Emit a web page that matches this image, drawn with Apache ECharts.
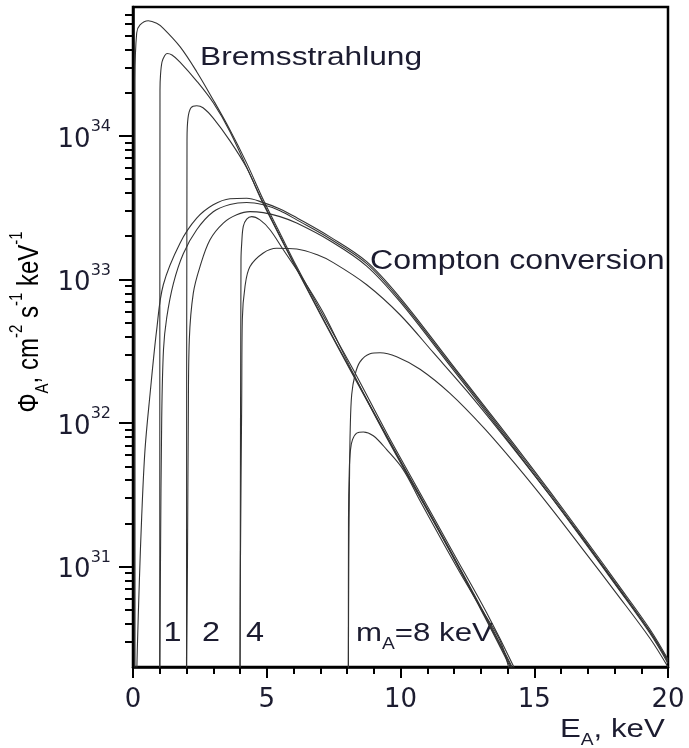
<!DOCTYPE html>
<html>
<head>
<meta charset="utf-8">
<script src="https://cdn.jsdelivr.net/npm/echarts@6/dist/echarts.min.js"></script>
<style>
  html, body { margin: 0; padding: 0; background: #fff; }
  #chart { width: 689px; height: 748px; }
</style>
</head>
<body>
<div id="chart"></div>
<script>
// Axion flux spectra: Bremsstrahlung and Compton conversion, for several axion masses.
const xTickLabels = [0, 5, 10, 15, 20];
const yDecades = [1e31, 1e32, 1e33, 1e34];

// Bremsstrahlung curves [E_A (keV), flux]
const bremsM0 = [[0.075, 1.5e30], [0.075, 2.45e34], [0.138, 5.21e34], [0.262, 5.92e34], [0.572, 6.34e34],
  [0.886, 6.08e34], [1.133, 5.61e34], [1.757, 4.18e34], [2.381, 2.80e34], [3.0, 1.78e34], [3.626, 1.10e34],
  [4.25, 6.46e33], [4.871, 3.59e33], [5.495, 2.10e33], [6.12, 1.23e33], [6.99, 6.15e32], [8.236, 2.35e32],
  [9.484, 8.53e31], [10.73, 3.26e31], [11.97, 1.25e31], [13.22, 4.77e30], [14.22, 2.03e30], [14.3, 1.8e30]];
const bremsM1 = [[1.0, 1.5e30], [1.009, 2.09e34], [1.028, 2.65e34], [1.084, 3.27e34], [1.178, 3.60e34],
  [1.271, 3.75e34], [1.458, 3.66e34], [1.757, 3.27e34], [2.381, 2.41e34], [3.0, 1.70e34], [3.626, 1.07e34],
  [4.871, 3.42e33], [6.99, 5.86e32], [9.484, 8.16e31], [11.97, 1.19e31], [14.2, 1.95e30], [14.3, 1.6e30]];
const bremsM2 = [[2.0, 1.5e30], [2.019, 9.38e33], [2.056, 1.33e34], [2.168, 1.57e34], [2.381, 1.62e34],
  [2.617, 1.57e34], [3.0, 1.33e34], [3.626, 9.23e33], [4.25, 5.99e33], [4.871, 3.36e33], [6.99, 5.77e32],
  [9.484, 8.03e31], [11.97, 1.17e31], [14.17, 1.95e30], [14.3, 1.6e30]];
const bremsM4 = [[4.0, 1.5e30], [4.037, 1.37e33], [4.064, 1.79e33], [4.123, 2.34e33], [4.25, 2.63e33],
  [4.437, 2.74e33], [4.748, 2.60e33], [5.121, 2.22e33], [5.619, 1.61e33], [6.366, 9.96e32], [7.114, 5.86e32],
  [8.236, 2.21e32], [9.484, 7.91e31], [11.97, 1.16e31], [14.13, 1.95e30], [14.25, 1.6e30]];
const bremsM8 = [[8.05, 1.5e30], [8.056, 2.13e31], [8.086, 4.74e31], [8.131, 6.53e31], [8.206, 7.66e31],
  [8.363, 8.51e31], [8.61, 8.67e31], [8.983, 8.16e31], [9.484, 6.53e31], [10.10, 4.74e31], [10.73, 2.88e31],
  [11.48, 1.60e31], [12.22, 9.10e30], [12.97, 5.28e30], [13.72, 3.06e30], [14.04, 2.0e30], [14.1, 1.7e30]];

// Compton conversion curves [E_A (keV), flux]
const comptonM0 = [[0.131, 1.5e30], [0.161, 2.65e30], [0.236, 7.74e30], [0.325, 2.23e31], [0.449, 6.53e31],
  [0.636, 1.58e32], [0.886, 4.47e32], [1.133, 9.19e32], [1.757, 1.79e33], [2.381, 2.67e33], [3.0, 3.31e33],
  [3.626, 3.65e33], [4.25, 3.68e33], [4.871, 3.43e33], [5.495, 3.10e33], [6.12, 2.69e33], [7.364, 1.98e33],
  [8.736, 1.33e33], [9.981, 7.47e32], [11.85, 2.67e32], [13.10, 1.34e32], [14.34, 6.75e31], [15.59, 3.33e31],
  [16.83, 1.62e31], [18.08, 7.74e30], [19.33, 3.65e30], [20.0, 2.26e30]];
const comptonM1 = [[1.0, 1.5e30], [1.028, 1.12e31], [1.073, 1.06e32], [1.14, 3.25e32], [1.26, 5.41e32],
  [1.507, 9.33e32], [1.88, 1.51e33], [2.381, 2.22e33], [3.0, 2.96e33], [3.626, 3.33e33], [4.25, 3.44e33],
  [4.871, 3.31e33], [5.495, 3.01e33], [6.12, 2.60e33], [7.364, 1.92e33], [8.736, 1.29e33], [9.981, 7.23e32],
  [11.85, 2.59e32], [13.10, 1.30e32], [14.34, 6.53e31], [15.59, 3.23e31], [16.83, 1.57e31], [18.08, 7.51e30],
  [19.33, 3.53e30], [20.0, 2.19e30]];
const comptonM2 = [[2.0, 1.5e30], [2.037, 1.12e31], [2.067, 1.06e32], [2.105, 3.80e32], [2.254, 8.04e32],
  [2.505, 1.23e33], [2.879, 1.89e33], [3.376, 2.47e33], [3.877, 2.82e33], [4.374, 2.97e33], [4.871, 2.92e33],
  [5.495, 2.74e33], [6.12, 2.47e33], [7.364, 1.86e33], [8.736, 1.24e33], [9.981, 7.00e32], [11.85, 2.51e32],
  [13.10, 1.26e32], [14.34, 6.32e31], [15.59, 3.13e31], [16.83, 1.52e31], [18.08, 7.28e30], [19.33, 3.42e30],
  [20.0, 2.12e30]];
const comptonM4 = [[4.0, 1.5e30], [4.017, 1.12e31], [4.064, 1.46e32], [4.086, 5.25e32], [4.187, 8.94e32],
  [4.374, 1.23e33], [4.871, 1.53e33], [5.372, 1.65e33], [6.12, 1.63e33], [6.867, 1.49e33], [7.488, 1.31e33],
  [8.736, 9.19e32], [9.981, 5.68e32], [11.23, 3.09e32], [12.47, 1.68e32], [13.72, 8.71e31], [15.59, 3.13e31],
  [16.83, 1.55e31], [18.08, 7.38e30], [19.33, 3.51e30], [20.0, 2.19e30]];
const comptonM8 = [[8.05, 1.5e30], [8.067, 1.12e31], [8.093, 4.03e31], [8.12, 9.00e31], [8.176, 1.58e32],
  [8.30, 2.17e32], [8.486, 2.67e32], [8.86, 3.04e32], [9.234, 3.09e32], [9.858, 2.90e32], [10.73, 2.37e32],
  [11.85, 1.61e32], [13.10, 9.33e31], [14.34, 5.05e31], [15.59, 2.61e31], [16.83, 1.31e31], [18.08, 6.49e30],
  [19.33, 3.16e30], [20.0, 2.0e30]];

const curves = [bremsM0, bremsM1, bremsM2, bremsM4, bremsM8,
                comptonM0, comptonM1, comptonM2, comptonM4, comptonM8];

// Minor ticks at 2..9 x 10^n inside the axis range
const yMin = 2e30, yMax = 7.9e34;
const yMinorTicks = [];
for (let e = 30; e <= 34; e++) {
  for (let k = 2; k <= 9; k++) {
    const v = k * Math.pow(10, e);
    if (v > yMin * 1.01 && v < yMax) yMinorTicks.push(v);
  }
}

const ink = '#1c1c30';
const labelFont = 'DejaVu Sans';
const textFont = 'Liberation Sans';

const chart = echarts.init(document.getElementById('chart'), null, { renderer: 'canvas' });

chart.setOption({
  animation: false,
  backgroundColor: '#fff',
  grid: {
    left: 133, right: 21, top: 7, bottom: 81,
    show: true, borderColor: '#000', borderWidth: 2.5, backgroundColor: 'transparent'
  },
  xAxis: {
    type: 'value', min: 0, max: 20, interval: 5,
    axisLine: { onZero: false, lineStyle: { color: '#000', width: 2.5 } },
    axisTick: { length: 11, lineStyle: { color: '#000', width: 2 } },
    minorTick: { show: true, splitNumber: 5, length: 7, lineStyle: { color: '#000', width: 2 } },
    splitLine: { show: false },
    axisLabel: {
      margin: 20, color: ink, fontFamily: labelFont, fontSize: 26,
      customValues: xTickLabels
    }
  },
  yAxis: [{
    type: 'log', logBase: 10, min: yMin, max: yMax,
    axisLine: { lineStyle: { color: '#000', width: 2.5 } },
    axisTick: { length: 14, lineStyle: { color: '#000', width: 2 }, customValues: yDecades },
    splitLine: { show: false },
    axisLabel: {
      customValues: yDecades,
      margin: 22,
      formatter: v => '{b|10}{e|' + Math.round(Math.log10(v)) + '}',
      rich: {
        b: { fontFamily: labelFont, fontSize: 26, color: ink, lineHeight: 34, verticalAlign: 'bottom' },
        e: { fontFamily: labelFont, fontSize: 16, color: ink, lineHeight: 16, verticalAlign: 'top' }
      }
    }
  }, {
    type: 'log', logBase: 10, min: yMin, max: yMax, position: 'left',
    axisLine: { show: false },
    axisTick: { length: 8, lineStyle: { color: '#000', width: 2 }, customValues: yMinorTicks },
    axisLabel: { show: false },
    splitLine: { show: false }
  }],
  series: curves.map(d => ({
    type: 'line', data: d, yAxisIndex: 0, showSymbol: false, smooth: 0.35,
    clip: true, lineStyle: { color: '#333', width: 1.1 }
  })),
  graphic: [
    { type: 'text', x: 200, y: 58, scaleX: 1.22,
      style: { text: 'Bremsstrahlung', font: '26px "Liberation Sans"', fill: ink, align: 'left', verticalAlign: 'middle' } },
    { type: 'text', x: 370, y: 262, scaleX: 1.19,
      style: { text: 'Compton conversion', font: '27px "Liberation Sans"', fill: ink, align: 'left', verticalAlign: 'middle' } },
    { type: 'text', x: 172.5, y: 634, scaleX: 1.2,
      style: { text: '1', font: '27px "Liberation Sans"', fill: ink, align: 'center', verticalAlign: 'middle' } },
    { type: 'text', x: 211, y: 634, scaleX: 1.2,
      style: { text: '2', font: '27px "Liberation Sans"', fill: ink, align: 'center', verticalAlign: 'middle' } },
    { type: 'text', x: 255, y: 634, scaleX: 1.2,
      style: { text: '4', font: '27px "Liberation Sans"', fill: ink, align: 'center', verticalAlign: 'middle' } },
    { type: 'text', x: 356, y: 637, scaleX: 1.2,
      style: {
        text: '{t|m}{s|A}{t|=8 keV}', align: 'left', verticalAlign: 'middle',
        rich: {
          t: { fontFamily: textFont, fontSize: 26, fill: ink, color: ink, lineHeight: 32, verticalAlign: 'top' },
          s: { fontFamily: textFont, fontSize: 16, fill: ink, color: ink, lineHeight: 32, verticalAlign: 'bottom' }
        }
      } },
    { type: 'text', x: 560, y: 733, scaleX: 1.2,
      style: {
        text: '{t|E}{s|A}{t|, keV}', align: 'left', verticalAlign: 'middle',
        rich: {
          t: { fontFamily: textFont, fontSize: 26, fill: ink, color: ink, lineHeight: 32, verticalAlign: 'top' },
          s: { fontFamily: textFont, fontSize: 16, fill: ink, color: ink, lineHeight: 32, verticalAlign: 'bottom' }
        }
      } },
    { type: 'text', x: 30, y: 322, rotation: Math.PI / 2, scaleY: 1.2,
      style: {
        text: '{t|\u03A6}{s|A}{t|, cm}{p|-2}{t| s}{p|-1}{t| keV}{p|-1}', align: 'center', verticalAlign: 'middle',
        rich: {
          t: { fontFamily: textFont, fontSize: 24, color: ink, lineHeight: 36, verticalAlign: 'middle' },
          s: { fontFamily: textFont, fontSize: 15, color: ink, lineHeight: 15, verticalAlign: 'bottom' },
          p: { fontFamily: textFont, fontSize: 15, color: ink, lineHeight: 15, verticalAlign: 'top' }
        }
      } }
  ]
});
</script>
</body>
</html>
